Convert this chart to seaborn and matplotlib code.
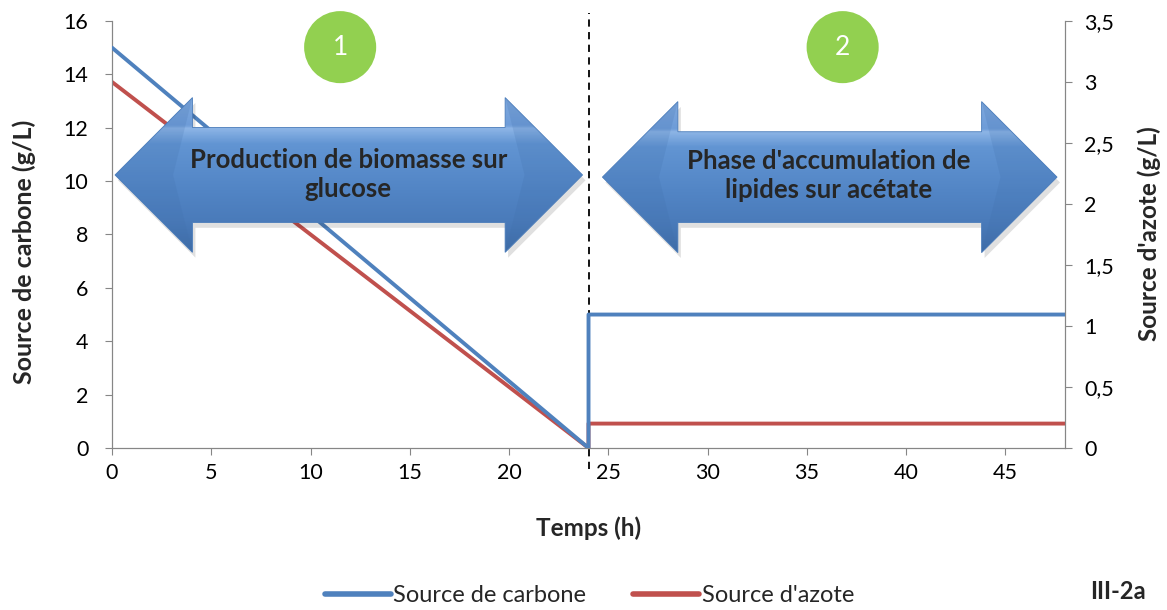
import numpy as np
import pandas as pd
import matplotlib
matplotlib.use("Agg")
import matplotlib.pyplot as plt
import matplotlib.patches as mpatches
from matplotlib.lines import Line2D
from matplotlib.colors import LinearSegmentedColormap
import seaborn as sns

sns.set_style("white")
plt.rcParams['font.family'] = ['Lato', 'DejaVu Sans']

# data
temps = [0, 24, 24, 48]
carbone = [15, 0, 5, 5]      # g/L, left axis
azote = [3, 0, 0.2, 0.2]     # g/L, right axis
x_ticks = [0, 5, 10, 15, 20, 25, 30, 35, 40, 45]
y_left_ticks = [0, 2, 4, 6, 8, 10, 12, 14, 16]
y_right_ticks = [0, 0.5, 1, 1.5, 2, 2.5, 3, 3.5]
phase_labels = ["Production de biomasse sur\nglucose",
                "Phase d'accumulation de\nlipides sur acétate"]

blue = "#4F81BD"
red = "#C0504D"
grey = "#868686"

df_c = pd.DataFrame({"t": temps, "v": carbone})
df_n = pd.DataFrame({"t": temps, "v": azote})

fig = plt.figure(figsize=(11.67, 6.1), dpi=100)
ax = fig.add_axes([0.096, 0.2656, 0.8166, 0.70])
ax2 = ax.twinx()

sns.lineplot(data=df_c, x="t", y="v", ax=ax, color=blue, lw=2.8,
             estimator=None, sort=False, zorder=3)
sns.lineplot(data=df_n, x="t", y="v", ax=ax2, color=red, lw=2.8,
             estimator=None, sort=False, zorder=3)

ax.set_xlim(0, 48)
ax.set_ylim(0, 16)
ax2.set_ylim(0, 3.5)
ax.set_xticks(x_ticks)
ax.set_yticks(y_left_ticks)
ax2.set_yticks(y_right_ticks)
ax2.set_yticklabels([f"{v:g}".replace(".", ",") for v in y_right_ticks])

for a in (ax, ax2):
    for s in a.spines.values():
        s.set_color(grey)
    a.spines["top"].set_visible(False)
    a.tick_params(colors=grey, labelcolor="black", labelsize=15.5,
                  length=5, direction="out")
ax.tick_params(axis="y", left=True, pad=12)
ax.tick_params(axis="x", bottom=True, pad=6)
ax2.tick_params(axis="y", right=True, pad=9)

ax.set_xlabel("Temps (h)", fontsize=17.5, fontweight="bold", labelpad=24)
ax.set_ylabel("Source de carbone (g/L)", fontsize=18, fontweight="bold",
              ha="center", va="center")
ax2.set_ylabel("Source d'azote (g/L)", fontsize=17.5, fontweight="bold",
               ha="center", va="center")
ax.yaxis.set_label_coords(-0.092, 0.459)
ax2.yaxis.set_label_coords(1.088, 0.503)

# dashed separator between the two phases
ax.plot([24, 24], [-0.8, 16.3], color="black", lw=1.3, ls=(0, (4, 3)),
        clip_on=False, zorder=2)
ax2.set_zorder(ax.get_zorder() - 1)
ax.patch.set_visible(False)

# double arrows with a vertical gradient
cmap = LinearSegmentedColormap.from_list(
    "arr", [(0, "#7FA9DE"), (0.18, "#6E9CD8"), (0.2, "#8DB5E6"), (0.3, "#6295D3"),
            (0.6, "#5285C5"), (0.8, "#4A7BBA"), (1, "#3F6DA8")])


def double_arrow(x0, x1, yc, head_len, head_half, body_half):
    pts = [(x0, yc), (x0 + head_len, yc + head_half), (x0 + head_len, yc + body_half),
           (x1 - head_len, yc + body_half), (x1 - head_len, yc + head_half), (x1, yc),
           (x1 - head_len, yc - head_half), (x1 - head_len, yc - body_half),
           (x0 + head_len, yc - body_half), (x0 + head_len, yc - head_half)]
    shadow = mpatches.Polygon([(x + 0.15, y - 0.2) for x, y in pts], closed=True,
                              fc="black", alpha=0.12, ec="none", zorder=4)
    ax.add_patch(shadow)
    poly = mpatches.Polygon(pts, closed=True, fc="none", ec="#4A7CBA", lw=0.6, zorder=6)
    ax.add_patch(poly)
    grad = np.linspace(0, 1, 300).reshape(-1, 1)
    im = ax.imshow(grad, cmap=cmap, aspect="auto", origin="upper",
                   extent=[x0, x1, yc - head_half, yc + head_half], zorder=5)
    im.set_clip_path(poly)
    # darker facets inside the heads
    for xt, xb in [(x0, x0 + head_len), (x1, x1 - head_len)]:
        face = mpatches.Polygon([(xt, yc), (xb, yc + head_half),
                                 (xb + (xt - xb) * 0.25, yc),
                                 (xb, yc - head_half)], closed=True,
                                fc="#3F6DA8", alpha=0.18, ec="none", zorder=5.5)
        ax.add_patch(face)


double_arrow(0.15, 23.7, 10.23, 3.9, 2.9, 1.78)
double_arrow(24.7, 47.6, 10.15, 3.8, 2.83, 1.70)
ax.set_xlim(0, 48)
ax.set_ylim(0, 16)

ax.text(11.9, 10.25, phase_labels[0], ha="center", va="center", fontsize=18.5,
        fontweight="bold", zorder=7, linespacing=1.25)
ax.text(36.1, 10.2, phase_labels[1], ha="center", va="center", fontsize=18.5,
        fontweight="bold", zorder=7, linespacing=1.25)

# numbered green circles
for cx, num in [(11.49, "1"), (36.8, "2")]:
    ax.add_patch(mpatches.Ellipse((cx, 15.02), 3.63, 2.70, fc="#92D050", ec="none",
                                  clip_on=False, zorder=7))
    ax.text(cx, 15.0, num, ha="center", va="center", color="white",
            fontsize=19, zorder=8)

handles = [Line2D([], [], color=blue, lw=4), Line2D([], [], color=red, lw=4)]
fig.legend(handles, ["Source de carbone", "Source d'azote"], loc="center",
           bbox_to_anchor=(0.505, 0.023), ncol=2, frameon=False, fontsize=17,
           handlelength=2.8, handletextpad=0.1, columnspacing=2.0)
fig.text(0.958, 0.03, "III-2a", ha="center", va="center", fontsize=17,
         fontweight="bold")

fig.savefig("out.png", dpi=100)
